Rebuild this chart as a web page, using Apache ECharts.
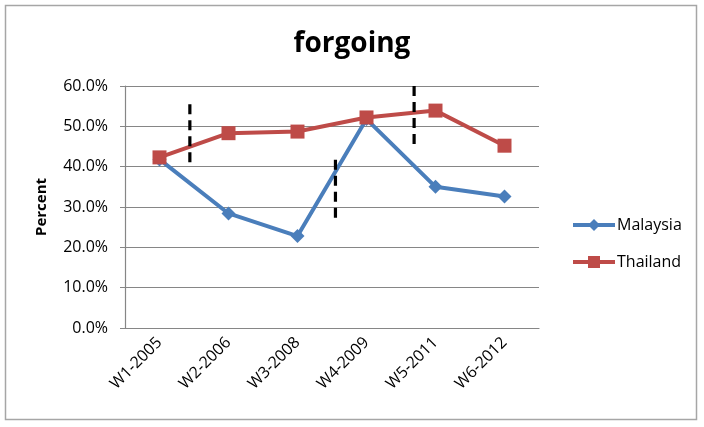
<!DOCTYPE html>
<html><head><meta charset="utf-8">
<script src="https://cdn.jsdelivr.net/npm/echarts@6/dist/echarts.min.js"></script>
<style>html,body{margin:0;padding:0;background:#fff}#c{width:704px;height:427px}</style>
</head><body><div id="c"></div>
<script>
const categories = ['W1-2005','W2-2006','W3-2008','W4-2009','W5-2011','W6-2012'];
const malaysia = [41.8, 28.4, 22.8, 51.8, 35.0, 32.6];
const thailand = [42.3, 48.3, 48.7, 52.2, 53.9, 45.2];
// dashed separator lines: [x position in category units, y from, y to]
const separators = [[0.44, 55.5, 40.6], [2.55, 41.7, 27.0], [3.69, 60.0, 45.6]];
const yTicks = {min: 0, max: 60, interval: 10};

const font = '"Open Sans", sans-serif';
const chart = echarts.init(document.getElementById('c'));
const sepSeries = separators.map(s => ({
  type: 'line', xAxisIndex: 1, yAxisIndex: 0, symbol: 'none', silent: true,
  data: [[s[0], s[1]], [s[0], s[2]]],
  lineStyle: {color: '#000', width: 3.2, type: [10, 6]}, z: 5
}));
chart.setOption({
  animation: false,
  graphic: [{type: 'rect', shape: {x: 5.5, y: 5.5, width: 691, height: 414}, style: {fill: 'none', stroke: '#a6a6a6', lineWidth: 1.5}, z: -1}],
  title: {text: 'forgoing', left: 'center', top: 25, textStyle: {fontFamily: font, fontSize: 28, fontWeight: 'bold', color: '#000'}},
  grid: {left: 125, right: 165, top: 86, bottom: 99},
  legend: {
    orient: 'vertical', left: 566, top: 212, itemGap: 21, itemWidth: 42, itemHeight: 15,
    data: ['Malaysia', 'Thailand'],
    lineStyle: {width: 4},
    textStyle: {fontFamily: font, fontSize: 16, color: '#000', padding: [0, 0, 0, -3]}
  },
  xAxis: [{
    type: 'category', data: categories, boundaryGap: true,
    axisLine: {lineStyle: {color: '#868686', width: 1.2}},
    axisTick: {show: false},
    axisLabel: {rotate: 45, fontFamily: font, fontSize: 16, color: '#000', margin: 12, interval: 0}
  }, {
    type: 'value', min: -0.5, max: 5.5, show: false
  }],
  yAxis: {
    type: 'value', min: yTicks.min, max: yTicks.max, interval: yTicks.interval,
    name: 'Percent', nameLocation: 'middle', nameGap: 76, nameRotate: 90,
    nameTextStyle: {fontFamily: font, fontSize: 15, fontWeight: 'bold', color: '#000'},
    axisLine: {show: true, onZero: false, lineStyle: {color: '#868686', width: 1.2}},
    axisTick: {show: true, length: 5, lineStyle: {color: '#868686'}},
    splitLine: {lineStyle: {color: '#868686', width: 1.2}},
    axisLabel: {fontFamily: font, fontSize: 16, color: '#000', margin: 17, formatter: v => v.toFixed(1) + '%'}
  },
  series: [
    {name: 'Malaysia', type: 'line', data: malaysia, symbol: 'diamond', symbolSize: 14,
     lineStyle: {color: '#4a7ebb', width: 4}, itemStyle: {color: '#4a7ebb'}, z: 3},
    {name: 'Thailand', type: 'line', data: thailand, symbol: 'rect', symbolSize: 14,
     lineStyle: {color: '#be4b48', width: 4}, itemStyle: {color: '#be4b48'}, z: 4},
    ...sepSeries
  ]
});
</script></body></html>
